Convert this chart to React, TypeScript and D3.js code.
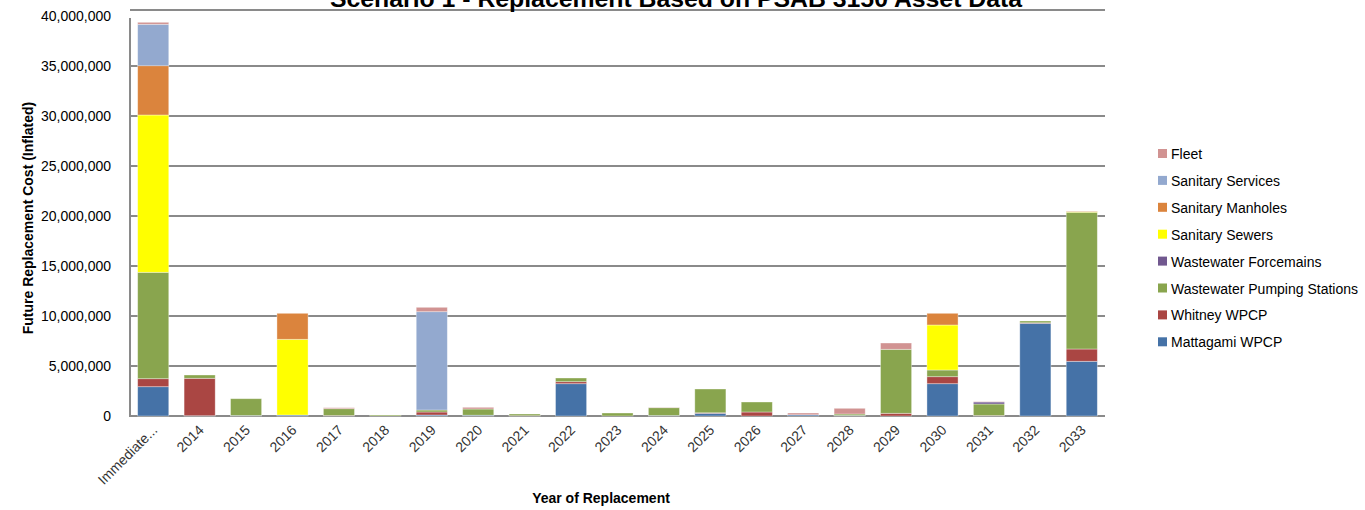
import * as d3 from 'd3';
import {useEffect, useRef} from 'react';

const categories = ['Immediate...', '2014', '2015', '2016', '2017', '2018', '2019', '2020', '2021', '2022', '2023', '2024', '2025', '2026', '2027', '2028', '2029', '2030', '2031', '2032', '2033'];

// values in dollars (stack order bottom -> top)
const mattagami = [2930000, 30000, 50000, 100000, 0, 0, 100000, 80000, 0, 3230000, 0, 50000, 270000, 0, 120000, 50000, 0, 3230000, 0, 9270000, 5470000];
const whitney = [800000, 3740000, 0, 0, 50000, 0, 300000, 0, 30000, 200000, 0, 0, 50000, 400000, 0, 0, 270000, 700000, 50000, 50000, 1230000];
const pumping = [10640000, 330000, 1680000, 0, 680000, 100000, 200000, 620000, 170000, 370000, 300000, 780000, 2380000, 1000000, 0, 150000, 6400000, 670000, 1150000, 180000, 13670000];
const forcemains = [0, 0, 0, 0, 0, 0, 0, 0, 0, 0, 0, 0, 0, 0, 0, 0, 0, 0, 200000, 0, 0];
const sewers = [15730000, 0, 0, 7570000, 0, 0, 0, 0, 0, 0, 0, 0, 0, 0, 0, 0, 0, 4500000, 0, 0, 80000];
const manholes = [4930000, 0, 0, 2600000, 0, 0, 0, 0, 0, 0, 0, 0, 0, 0, 0, 0, 0, 1170000, 0, 0, 0];
const services = [4140000, 0, 0, 0, 0, 0, 9830000, 0, 0, 0, 0, 0, 0, 0, 0, 0, 0, 0, 0, 0, 0];
const fleet = [200000, 0, 0, 0, 100000, 0, 440000, 170000, 0, 0, 0, 30000, 0, 0, 180000, 570000, 630000, 0, 30000, 0, 50000];

const seriesNames = ['Mattagami WPCP', 'Whitney WPCP', 'Wastewater Pumping Stations', 'Wastewater Forcemains', 'Sanitary Sewers', 'Sanitary Manholes', 'Sanitary Services', 'Fleet'];
const seriesValues = [mattagami, whitney, pumping, forcemains, sewers, manholes, services, fleet];
const seriesColors = ['#4572A7', '#AA4643', '#89A54E', '#71588F', '#FFFF00', '#DB843D', '#93A9CF', '#D19392'];

const yTicks = [0, 5000000, 10000000, 15000000, 20000000, 25000000, 30000000, 35000000, 40000000];

export default function App() {
    const svgRef = useRef<SVGSVGElement>(null);

    const width = 1365;
    const height = 510;
    const left = 130, right = 1105, top = 16, bottom = 416;

    useEffect(() => {
        const svg = d3.select(svgRef.current);
        svg.selectAll('*').remove();

        const rows = categories.map((c, i) => {
            const row: any = {cat: c};
            seriesNames.forEach((s, k) => { row[s] = seriesValues[k][i]; });
            return row;
        });
        const stacked = d3.stack().keys(seriesNames)(rows);

        const x = d3.scaleBand().domain(categories).range([left, right]).paddingInner(0.33).paddingOuter(0.165);
        const y = d3.scaleLinear().domain([0, 40000000]).range([bottom, top]);
        const color = d3.scaleOrdinal<string, string>(seriesNames, seriesColors);
        const fmt = d3.format(',');

        // gridlines (top one sits a little above the 40M label in the original)
        svg.append('g').selectAll('line')
            .data(yTicks)
            .enter()
            .append('line')
            .attr('x1', left)
            .attr('x2', right)
            .attr('y1', d => d === 40000000 ? y(d) - 6 : y(d))
            .attr('y2', d => d === 40000000 ? y(d) - 6 : y(d))
            .attr('stroke', '#8a8a8a')
            .attr('stroke-width', 2);

        // left axis line
        svg.append('line')
            .attr('x1', left).attr('x2', left)
            .attr('y1', y(39800000)).attr('y2', bottom + 1)
            .attr('stroke', '#8a8a8a')
            .attr('stroke-width', 2);

        svg.append('g').selectAll('text')
            .data(yTicks)
            .enter()
            .append('text')
            .attr('x', 111)
            .attr('y', d => y(d) + 5)
            .attr('text-anchor', 'end')
            .attr('font-size', 14)
            .attr('fill', '#000')
            .text(d => fmt(d));

        // bars
        const layers = svg.append('g').selectAll('g')
            .data(stacked)
            .enter()
            .append('g')
            .attr('fill', d => color(d.key));

        layers.selectAll('rect')
            .data(d => d.filter(p => p[1] - p[0] > 0))
            .enter()
            .append('rect')
            .attr('x', d => x(d.data.cat as string)!)
            .attr('width', x.bandwidth())
            .attr('y', d => y(d[1]))
            .attr('height', d => y(d[0]) - y(d[1]))
            .attr('stroke', 'rgba(255,255,255,0.45)')
            .attr('stroke-width', 0.8);

        // x labels
        svg.append('g').selectAll('text')
            .data(categories)
            .enter()
            .append('text')
            .attr('transform', d => `translate(${x(d)! + x.bandwidth() / 2 + 5},${bottom + 15}) rotate(-45)`)
            .attr('text-anchor', 'end')
            .attr('font-size', 14)
            .attr('fill', '#333')
            .text(d => d);

        // legend
        const legendNames = seriesNames.slice().reverse();
        const legend = svg.append('g').selectAll('g')
            .data(legendNames)
            .enter()
            .append('g')
            .attr('transform', (d, i) => `translate(1158,${154 + i * 26.9})`);
        legend.append('rect')
            .attr('y', -5)
            .attr('width', 9)
            .attr('height', 9)
            .attr('fill', d => color(d));
        legend.append('text')
            .attr('x', 13)
            .attr('y', 5)
            .attr('font-size', 14)
            .attr('fill', '#000')
            .text(d => d);

        // titles (the chart title is cropped at the top edge in the original)
        svg.append('text')
            .attr('x', 676)
            .attr('y', 7)
            .attr('text-anchor', 'middle')
            .attr('font-size', 23)
            .attr('font-weight', 'bold')
            .attr('textLength', 692)
            .attr('lengthAdjust', 'spacingAndGlyphs')
            .text('Scenario 1 - Replacement Based on PSAB 3150 Asset Data');

        svg.append('text')
            .attr('transform', `translate(33,218) rotate(-90)`)
            .attr('text-anchor', 'middle')
            .attr('font-size', 14)
            .attr('font-weight', 'bold')
            .text('Future Replacement Cost (Inflated)');

        svg.append('text')
            .attr('x', 601)
            .attr('y', 503)
            .attr('text-anchor', 'middle')
            .attr('font-size', 14)
            .attr('font-weight', 'bold')
            .text('Year of Replacement');
    }, []);

    return (
        <div style={{position: 'absolute', left: 0, top: 0}}>
            <svg ref={svgRef} width={width} height={height} style={{display: 'block', fontFamily: '"Liberation Sans", Arial, sans-serif', background: '#fff'}}></svg>
        </div>
    );
}
